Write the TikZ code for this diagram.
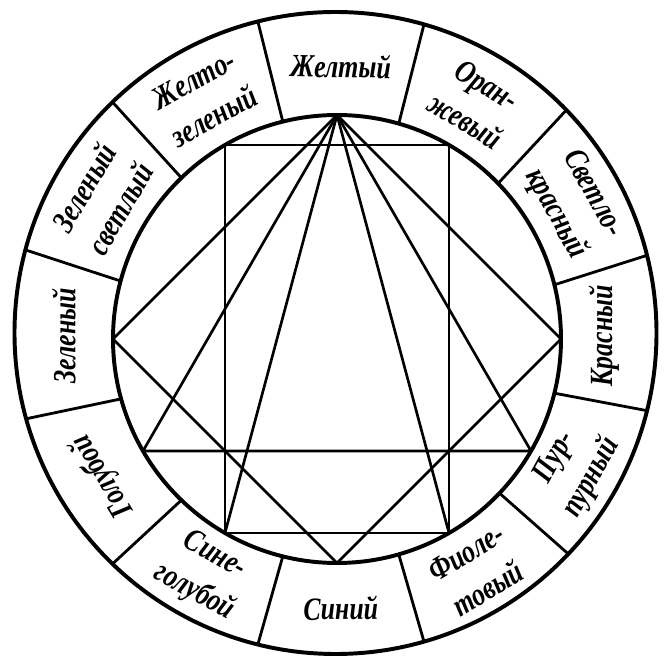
\documentclass[tikz,border=0pt]{standalone}
\usepackage{fontspec}
\newfontfamily\wheelfont[FakeStretch=0.8]{Liberation Serif}
\usepackage{tikz}
\usetikzlibrary{calc}

\begin{document}
\begin{tikzpicture}[x=0.025cm, y=0.025cm,
  ring/.style={line width=2.8pt},
  spoke/.style={line width=2pt},
  chord/.style={line width=1.9pt, line join=round},
  tint/.style={font=\wheelfont\bfseries\itshape\fontsize{23}{30}\selectfont, align=center, inner sep=0pt}]
\useasboundingbox (0,0) rectangle (664,664);
\coordinate (O) at (337,325);   % centre of the inner circle
\coordinate (Q) at (335.5,331); % centre of the outer circle
\coordinate (M) at (336,328);   % centre for the labels
\draw[ring] (Q) circle (321);
\draw[ring] (O) circle (224);
\foreach \a in {14,44,74,104,134,165,195.5,226,256,286,316.5,346}
  \draw[spoke] ($(O)+(\a:224)$) -- ($(Q)+(\a:321)$);
% points on the inner circle
\foreach \a in {0,60,90,120,180,210,240,270,300,330}
  \coordinate (p\a) at ($(O)+(\a:224)$);
\draw[chord] (p60) -- (p120) -- (p240) -- (p300) -- cycle;
\draw[chord] (p0) -- (p90) -- (p180) -- (p270) -- cycle;
\draw[chord] (p90) -- (p210) -- (p330) -- cycle;
\draw[chord] (p240) -- (p90) -- (p300);
% labels
\node[tint, rotate=-1] (yellow) at ($(M)+(89:270)$) {Желтый};
\node[tint, rotate=29] (yellowgreen) at ($(M)+(119:272)$) {Желто-\\зеленый};
\node[tint, rotate=59.5] (lightgreen) at ($(M)+(149.5:272)$) {Зеленый\\светлый};
\node[tint, rotate=90] (green) at ($(M)+(180:272)$) {Зеленый};
\node[tint, rotate=121] (cyan) at ($(M)+(211:272)$) {Голубой};
\node[tint, rotate=-29] (bluecyan) at ($(M)+(241:272)$) {Сине-\\голубой};
\node[tint, rotate=1] (blue) at ($(M)+(271:272)$) {Синий};
\node[tint, rotate=31] (violet) at ($(M)+(301:274)$) {Фиоле-\\товый};
\node[tint, rotate=61] (purple) at ($(M)+(331:272)$) {Пур-\\пурный};
\node[tint, rotate=90] (red) at ($(M)+(0:268)$) {Красный};
\node[tint, rotate=-61] (lightred) at ($(M)+(29:272)$) {Светло-\\красный};
\node[tint, rotate=-31] (orange) at ($(M)+(59:272)$) {Оран-\\жевый};
\end{tikzpicture}
\end{document}
